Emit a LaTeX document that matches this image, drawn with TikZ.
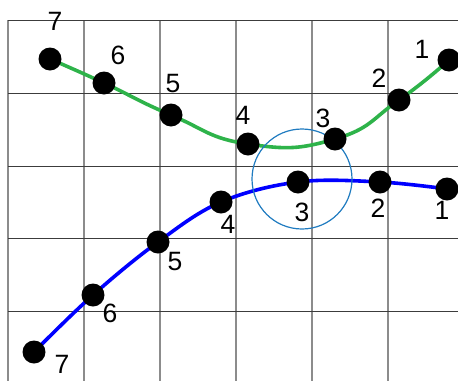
\documentclass[tikz,border=0pt]{standalone}
\usepackage{fontspec}
\setmainfont{Liberation Sans}
\usetikzlibrary{positioning}
\definecolor{gridDark}{HTML}{3C3C3C}
\definecolor{gridGray}{HTML}{8C8C8C}
\definecolor{curveGreen}{HTML}{2EB34A}
\definecolor{curveBlue}{HTML}{0000FF}
\definecolor{ringBlue}{HTML}{1F7BC0}
\tikzset{
  gridH/.style={gridDark, line width=1pt},
  gridV/.style={gridGray, line width=1.6pt},
  curveG/.style={curveGreen, line width=3.6pt},
  curveB/.style={curveBlue, line width=3.6pt},
  dot/.style={circle, fill=black, inner sep=0pt, minimum size=23pt},
  num/.style={inner sep=0pt, font=\fontsize{26.5}{26.5}\selectfont},
}
\begin{document}
\begin{tikzpicture}[x=1pt, y=-1pt]
    \useasboundingbox (0,0) rectangle (458,381);

    % rejilla
    \foreach \gx in {8,84,160,236,312,388}
      \draw[gridV] (\gx,20) -- (\gx,381);
    \foreach \gy in {20,93,166,238,311}
      \draw[gridH] (8,\gy) -- (458,\gy);

    % puntos de la curva verde
    \coordinate (g7) at (50,59);
    \coordinate (g6) at (104,83);
    \coordinate (g5) at (171,115);
    \coordinate (g4) at (248,144);
    \coordinate (g3) at (335,139);
    \coordinate (g2) at (399,100);
    \coordinate (g1) at (449,60);

    % puntos de la curva azul
    \coordinate (b7) at (34,352);
    \coordinate (b6) at (93,295);
    \coordinate (b5) at (158,242);
    \coordinate (b4) at (221,202);
    \coordinate (b3) at (298,182);
    \coordinate (b2) at (380,182);
    \coordinate (b1) at (447,189);

    \draw[curveG] plot[smooth, tension=0.85] coordinates {(g7) (g6) (g5) (g4) (g3) (g2) (g1)};
    \draw[curveB] plot[smooth, tension=0.6] coordinates {(b7) (b6) (b5) (b4) (b3) (b2) (b1)};

    % circulo
    \coordinate (ringC) at (302,179);
    \draw[ringBlue, line width=1.2pt] (ringC) circle[radius=50];

    \foreach \i in {1,...,7} {
      \node[dot] (dg\i) at (g\i) {};
      \node[dot] (db\i) at (b\i) {};
    }

    % etiquetas verdes
    \node[num] (lg7) at (55,21) {7};
    \node[num] (lg6) at (118,55) {6};
    \node[num] (lg5) at (173,84) {5};
    \node[num] (lg4) at (243,115) {4};
    \node[num] (lg3) at (323,118) {3};
    \node[num] (lg2) at (379,78) {2};
    \node[num] (lg1) at (422,49) {1};

    % etiquetas azules
    \node[num] (lb7) at (62,364) {7};
    \node[num] (lb6) at (110,313) {6};
    \node[num] (lb5) at (175,262) {5};
    \node[num] (lb4) at (228,224) {4};
    \node[num] (lb3) at (302,212) {3};
    \node[num] (lb2) at (378,208) {2};
    \node[num] (lb1) at (442,210) {1};
  \end{tikzpicture}
\end{document}
